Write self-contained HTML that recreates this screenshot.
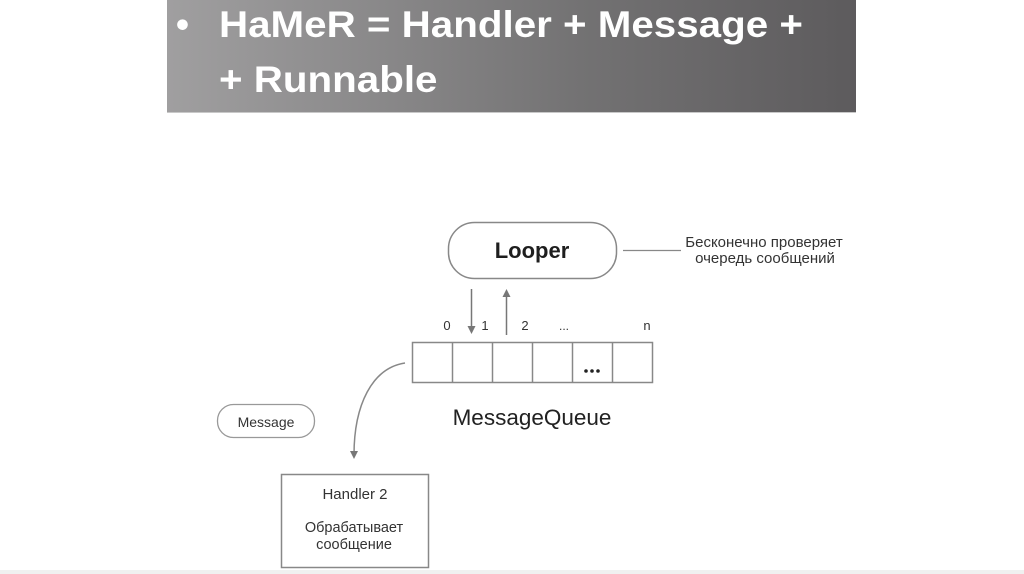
<!DOCTYPE html>
<html>
<head>
<meta charset="utf-8">
<style>
  html,body{margin:0;padding:0;background:#fff;}
  body{width:1024px;height:574px;overflow:hidden;position:relative;font-family:"Liberation Sans","DejaVu Sans",sans-serif;}
  .bar{position:absolute;left:167px;top:0;width:689px;height:112px;
       background:linear-gradient(90deg,#a09fa0 0%,#8a898a 30%,#737273 60%,#5d5b5d 100%);
       border-bottom:1px solid #c8c8c8;}
  .t{position:absolute;color:#fff;font-weight:bold;font-size:37px;white-space:nowrap;line-height:1;transform:scaleX(1.09);transform-origin:0 0;}
  .bottom{position:absolute;left:0;top:570px;width:1024px;height:4px;background:#f0f0f0;}
</style>
</head>
<body>
<div class="bar"></div>
<div class="t" style="left:176px;top:6px;transform:none;">•</div>
<div class="t" style="left:219px;top:6px;">HaMeR = Handler + Message +</div>
<div class="t" style="left:219px;top:61px;">+ Runnable</div>
<div class="bottom"></div>

<svg width="1024" height="574" style="position:absolute;left:0;top:0;" xmlns="http://www.w3.org/2000/svg">
  <defs>
    <marker id="ah" markerWidth="8" markerHeight="8" refX="4" refY="4" orient="auto" markerUnits="userSpaceOnUse">
      <path d="M0,0 L8,4 L0,8 z" fill="#777"/>
    </marker>
  </defs>
  <!-- Looper -->
  <rect x="448.5" y="222.5" width="168" height="56" rx="26" ry="26" fill="#fff" stroke="#888" stroke-width="1.5"/>
  <text x="532" y="258" text-anchor="middle" font-family="Liberation Sans, sans-serif" font-weight="bold" font-size="22" fill="#1e1e1e">Looper</text>
  <!-- annotation -->
  <line x1="623" y1="250.5" x2="681" y2="250.5" stroke="#888" stroke-width="1.3"/>
  <text x="764" y="247" text-anchor="middle" font-family="Liberation Sans, sans-serif" font-size="15" fill="#333">Бесконечно проверяет</text>
  <text x="765" y="263" text-anchor="middle" font-family="Liberation Sans, sans-serif" font-size="15" fill="#333">очередь сообщений</text>
  <!-- arrows -->
  <line x1="471.5" y1="289" x2="471.5" y2="330" stroke="#777" stroke-width="1.5" marker-end="url(#ah)"/>
  <line x1="506.5" y1="335" x2="506.5" y2="293" stroke="#777" stroke-width="1.5" marker-end="url(#ah)"/>
  <!-- index labels -->
  <g font-family="Liberation Sans, sans-serif" font-size="13" fill="#333" text-anchor="middle">
    <text x="447" y="330">0</text>
    <text x="485" y="330">1</text>
    <text x="525" y="330">2</text>
    <text x="564" y="330" font-size="12">...</text>
    <text x="647" y="330">n</text>
  </g>
  <!-- queue -->
  <g fill="none" stroke="#888" stroke-width="1.5">
    <rect x="412.5" y="342.5" width="240" height="40"/>
    <line x1="452.5" y1="342" x2="452.5" y2="383"/>
    <line x1="492.5" y1="342" x2="492.5" y2="383"/>
    <line x1="532.5" y1="342" x2="532.5" y2="383"/>
    <line x1="572.5" y1="342" x2="572.5" y2="383"/>
    <line x1="612.5" y1="342" x2="612.5" y2="383"/>
  </g>
  <g fill="#222">
    <circle cx="586" cy="371" r="1.8"/>
    <circle cx="592" cy="371" r="1.8"/>
    <circle cx="598" cy="371" r="1.8"/>
  </g>
  <text x="532" y="425" text-anchor="middle" font-family="Liberation Sans, sans-serif" font-size="22.5" fill="#222">MessageQueue</text>
  <!-- curve -->
  <path d="M405,363 C372,368 354,405 354,455" fill="none" stroke="#888" stroke-width="1.5" marker-end="url(#ah)"/>
  <!-- Message pill -->
  <rect x="217.5" y="404.5" width="97" height="33" rx="16" ry="16" fill="#fff" stroke="#999" stroke-width="1.3"/>
  <text x="266" y="427" text-anchor="middle" font-family="Liberation Sans, sans-serif" font-size="14" fill="#333">Message</text>
  <!-- Handler box -->
  <rect x="281.5" y="474.5" width="147" height="93" fill="#fff" stroke="#888" stroke-width="1.5"/>
  <g font-family="Liberation Sans, sans-serif" fill="#333" text-anchor="middle">
    <text x="355" y="499" font-size="15">Handler 2</text>
    <text x="354" y="532" font-size="14.5">Обрабатывает</text>
    <text x="354" y="549" font-size="14.5">сообщение</text>
  </g>
</svg>
</body>
</html>
